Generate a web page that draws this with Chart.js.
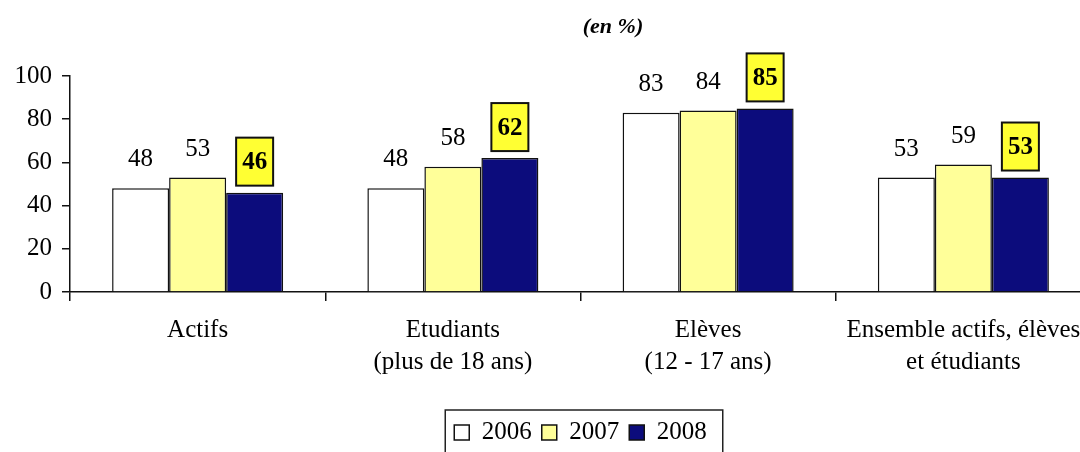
<!DOCTYPE html>
<html><head><meta charset="utf-8">
<script src="https://cdn.jsdelivr.net/npm/chart.js@4"></script>
<style>
html,body{margin:0;padding:0;background:#fff;}
#wrap{width:1080px;height:452px;overflow:hidden;position:relative;background:#fff;}
#box{width:1100px;height:470px;position:absolute;left:0;top:0;}
</style></head><body>
<div id="wrap"><div id="box"><canvas id="c"></canvas></div></div>
<script>
const categories = [['Actifs'], ['Etudiants', '(plus de 18 ans)'], ['Elèves', '(12 - 17 ans)'], ['Ensemble actifs, élèves', 'et étudiants']];
const seriesNames = ['2006', '2007', '2008'];
const values2006 = [48, 48, 83, 53];
const values2007 = [53, 58, 84, 59];
const values2008 = [46, 62, 85, 53];
const yTickValues = [0, 20, 40, 60, 80, 100];
const titleText = '(en %)';

const FONT = '"Liberation Serif", "Times New Roman", serif';

const labelPlugin = {
  id: 'valueLabels',
  afterDatasetsDraw(chart) {
    const ctx = chart.ctx;
    ctx.save();
    ctx.textAlign = 'center';
    ctx.textBaseline = 'middle';
    chart.data.datasets.forEach((ds, di) => {
      const meta = chart.getDatasetMeta(di);
      meta.data.forEach((bar, i) => {
        const v = ds.data[i];
        if (di === 2) {
          const bw = 37, bh = 48;
          const bx = bar.x - bw / 2, by = bar.y - 7 - bh;
          ctx.fillStyle = '#FFFF33';
          ctx.fillRect(bx, by, bw, bh);
          ctx.lineWidth = 2;
          ctx.strokeStyle = '#111';
          ctx.strokeRect(bx, by, bw, bh);
          ctx.fillStyle = '#000';
          ctx.font = 'bold 25px ' + FONT;
          ctx.fillText(String(v), bar.x, by + bh / 2 + 1);
        } else {
          ctx.fillStyle = '#000';
          ctx.font = '25px ' + FONT;
          ctx.fillText(String(v), bar.x, bar.y - 28.5);
        }
      });
    });
    ctx.restore();
  },
  afterDraw(chart) {
    const ctx = chart.ctx;
    ctx.save();
    // title
    ctx.fillStyle = '#000';
    ctx.font = 'italic bold 22px ' + FONT;
    ctx.textAlign = 'center';
    ctx.textBaseline = 'middle';
    ctx.fillText(titleText, 613, 27);
    // legend frame
    const hb = chart.legend.legendHitBoxes;
    if (hb && hb.length) {
      const first = hb[0], last = hb[hb.length - 1];
      const left = first.left - 9;
      const right = last.left + last.width + 16;
      const top = first.top - 10;
      ctx.lineWidth = 1.5;
      ctx.strokeStyle = '#222';
      ctx.strokeRect(left, top, right - left, 60);
    }
    ctx.restore();
  }
};

new Chart(document.getElementById('c'), {
  type: 'bar',
  data: {
    labels: categories,
    datasets: [
      { label: seriesNames[0], data: values2006, backgroundColor: '#FFFFFF', borderColor: '#111', borderWidth: 1.5 },
      { label: seriesNames[1], data: values2007, backgroundColor: '#FFFF99', borderColor: '#111', borderWidth: 1.5 },
      { label: seriesNames[2], data: values2008, backgroundColor: '#0C0C7C', borderColor: '#111', borderWidth: 1.5 }
    ]
  },
  options: {
    responsive: true,
    maintainAspectRatio: false,
    animation: false,
    devicePixelRatio: 1,
    layout: { padding: { top: 76, right: 9, bottom: 15, left: 0 } },
    datasets: { bar: { categoryPercentage: 0.67, barPercentage: 1.0 } },
    plugins: {
      legend: {
        position: 'bottom',
        fullSize: false,
        labels: {
          boxWidth: 15, boxHeight: 15, padding: 10, color: '#000',
          font: { family: FONT, size: 25 }
        }
      },
      title: { display: false },
      tooltip: { enabled: false }
    },
    scales: {
      x: {
        grid: { display: true, drawOnChartArea: false, drawTicks: true, tickLength: 9, color: '#111', lineWidth: 1.5, offset: true },
        border: { display: true, color: '#111', width: 1.5 },
        ticks: { color: '#000', padding: 13, maxRotation: 0, autoSkip: false, font: { family: FONT, size: 25, lineHeight: 1.28 } },
        afterFit(scale) { scale.height = 118; }
      },
      y: {
        min: 0, max: 100,
        afterBuildTicks(scale) { scale.ticks = yTickValues.map(v => ({ value: v })); },
        grid: { display: true, drawOnChartArea: false, drawTicks: true, tickLength: 8, color: '#111', lineWidth: 1.5 },
        border: { display: true, color: '#111', width: 1.5 },
        ticks: { color: '#000', padding: 10, font: { family: FONT, size: 25 } },
        afterFit(scale) { scale.width = 70; }
      }
    }
  },
  plugins: [labelPlugin]
});
</script>
</body></html>
